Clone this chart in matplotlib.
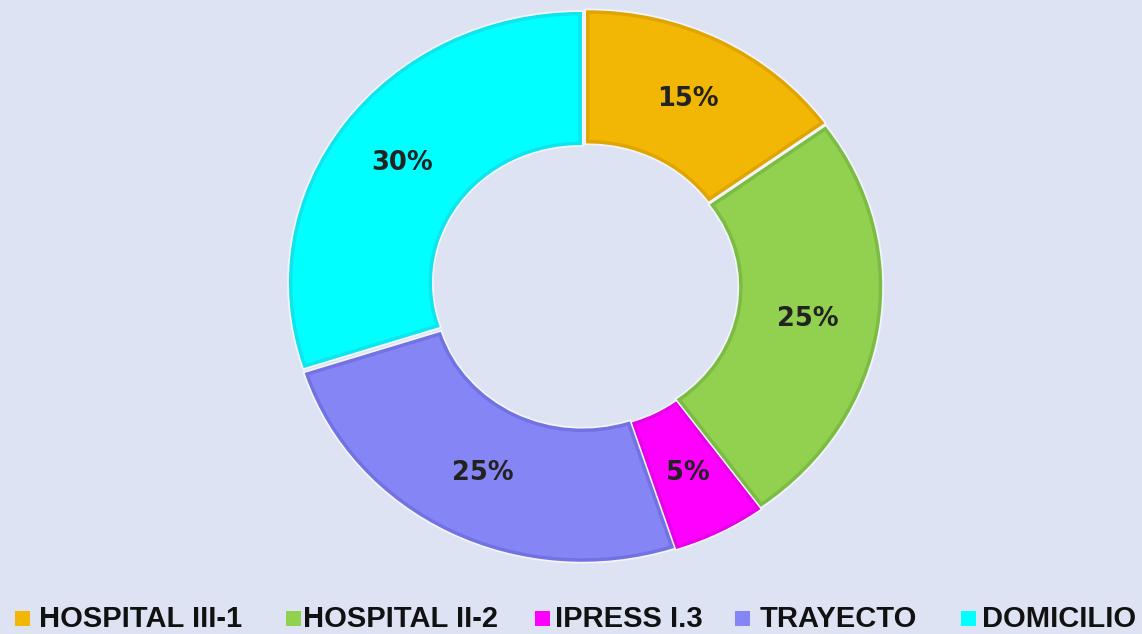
import matplotlib.pyplot as plt
from matplotlib.patches import Rectangle

# Data
categories = ["HOSPITAL III-1", "HOSPITAL II-2", "IPRESS I.3", "TRAYECTO", "DOMICILIO"]
shares = [15, 25, 5, 25, 30]
colors = ["#F2B705", "#92D050", "#FF00FF", "#8585F5", "#00FFFF"]
edges = ["#E0A500", "#7CBB44", "#E800E8", "#7272E2", "#10E4EC"]
bg = "#DDE3F3"

W, H = 1142, 634
fig = plt.figure(figsize=(W / 100, H / 100), dpi=100, facecolor=bg)
# pie is a little wider than tall in the reference, so use a stretched axes
ax = fig.add_axes([0.2262, 0.070, 0.5722, 0.9577])
ax.set_facecolor(bg)

explode = [0.02] * len(shares)
r = 0.975
# light halo / gaps underneath
ax.pie(shares, colors=colors, startangle=90, counterclock=False, explode=explode,
       radius=r, wedgeprops=dict(width=0.47, edgecolor="#F3F6FC", linewidth=5))
wedges, texts, autotexts = ax.pie(
    shares, colors=colors, startangle=90, counterclock=False, explode=explode,
    radius=r, autopct="%d%%", pctdistance=0.76,
    wedgeprops=dict(width=0.47, linewidth=2.5),
    textprops=dict(fontsize=18.5, fontweight="bold", color="#222222"))
for w, ec in zip(wedges, edges):
    w.set_edgecolor(ec)

ax.set_aspect("auto")
ax.set_xlim(-1.1, 1.1)
ax.set_ylim(-1.1, 1.1)
ax.axis("off")

# legend along the bottom, entries placed like the reference
marker_x = [15, 286, 535, 735, 961]
text_x = [39, 303, 555, 760, 982]
for mx, tx, c, lab in zip(marker_x, text_x, colors, categories):
    fig.patches.append(Rectangle((mx / W, 8 / H), 15 / W, 15 / H,
                                 transform=fig.transFigure, facecolor=c,
                                 edgecolor="none"))
    fig.text(tx / W, 7 / H, lab, ha="left", va="baseline", color="#111111",
             family="Liberation Sans", fontweight="bold", fontsize=21)

fig.savefig("out.png", dpi=100, facecolor=bg)
